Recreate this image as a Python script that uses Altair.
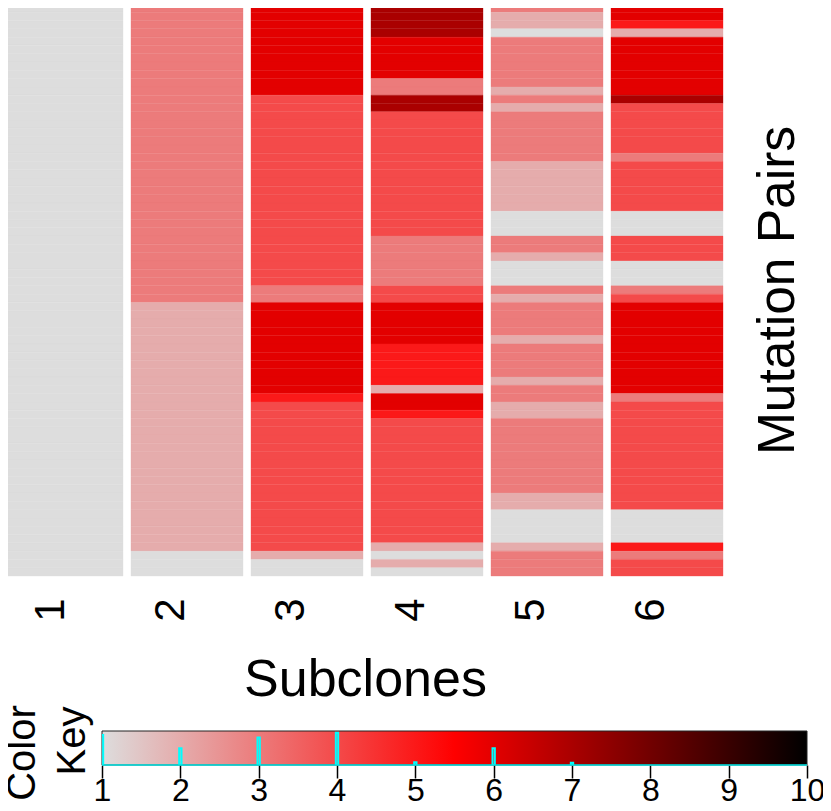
import altair as alt
import pandas as pd
from collections import Counter

# Discrete level of every mutation pair (top to bottom), one list per subclone.
SUBCLONE_1 = [1] * 69
SUBCLONE_2 = [3] * 36 + [2] * 30 + [1] * 3
SUBCLONE_3 = [6] * 11 + [4] * 23 + [3] * 2 + [6] * 11 + [5] + [4] * 18 + [2] + [1] * 2
SUBCLONE_4 = ([7] * 4 + [6] * 5 + [3] * 2 + [7] * 2 + [4] * 15 + [3] * 6 + [4] * 2 + [6] * 5
              + [5] * 5 + [2] + [6] * 2 + [5] + [4] * 15 + [2] + [1] + [2] + [1])
SUBCLONE_5 = ([3] + [2] * 2 + [1] + [3] * 6 + [2] + [3] + [2] + [3] * 6 + [2] * 6 + [1] * 3
              + [3] * 2 + [2] + [1] * 3 + [3] + [2] + [3] * 4 + [2] + [3] * 4 + [2] + [3] * 2
              + [2] * 2 + [3] * 9 + [2] * 2 + [1] * 4 + [2] + [3] * 3)
SUBCLONE_6 = ([6] * 2 + [5] + [2] + [6] * 7 + [7] + [4] * 6 + [3] + [4] * 6 + [1] * 3 + [4] * 3
              + [1] * 3 + [3] + [4] + [6] * 11 + [3] + [4] * 13 + [1] * 4 + [5] + [3] + [4] * 2)
COLUMNS = [SUBCLONE_1, SUBCLONE_2, SUBCLONE_3, SUBCLONE_4, SUBCLONE_5, SUBCLONE_6]

KEY_TICKS = [1, 2, 3, 4, 5, 6, 7, 8, 9, 10]
COLOR_DOMAIN = [1, 5.5, 10]
COLOR_RANGE = ["#DDDDDD", "#FF0000", "#000000"]
FONT = "Liberation Sans"

rows = pd.DataFrame(
    [
        {"subclone": str(i + 1), "row": r, "level": v}
        for i, col in enumerate(COLUMNS)
        for r, v in enumerate(col)
    ]
)
counts = Counter(rows["level"])
hist = pd.DataFrame(
    {
        "level": sorted(counts),
        "count": [counts[k] for k in sorted(counts)],
    }
)
hist["lo"] = hist["level"] - 0.015
hist["hi"] = hist["level"] + 0.015

color_scale = alt.Scale(domain=COLOR_DOMAIN, range=COLOR_RANGE, interpolate="rgb")
x_enc = alt.X(
    "subclone:N",
    scale=alt.Scale(paddingInner=0, paddingOuter=0),
    axis=alt.Axis(
        title="Subclones", titleFontSize=52, titleFontWeight="normal", titleFont=FONT,
        titlePadding=33, titleX=358, labelFontSize=42, labelFont=FONT, labelAngle=270, labelAlign="right",
        labelBaseline="middle", labelPadding=22, labelOffset=-16, labelColor="black",
        titleColor="black", domain=False, ticks=False,
    ),
)
y_enc = alt.Y(
    "row:O",
    scale=alt.Scale(round=False, paddingInner=0, paddingOuter=0),
    axis=alt.Axis(
        orient="right", title="Mutation Pairs", titleFontSize=51.5, titleFontWeight="normal",
        titleFont=FONT, titleAngle=270, titleColor="black", titlePadding=77,
        labels=False, ticks=False, domain=False,
    ),
)
color_enc = alt.Color("level:Q", scale=color_scale, legend=None)
stroke_enc = alt.Stroke("level:Q", scale=color_scale, legend=None)

narrow = (
    alt.Chart(rows[rows.subclone != "1"])
    .mark_rect(width=112, strokeWidth=0.35)
    .encode(x=x_enc, y=y_enc, color=color_enc, stroke=stroke_enc)
)
wide = (
    alt.Chart(rows[rows.subclone == "1"])
    .mark_rect(width=119, xOffset=-3.5, strokeWidth=0.35)
    .encode(x=x_enc, y=y_enc, color=color_enc, stroke=stroke_enc)
)
heat = alt.layer(wide, narrow).properties(width=720, height=572)

ramp = pd.DataFrame({"a": [KEY_TICKS[0]], "b": [KEY_TICKS[-1]]})
key_x = alt.Scale(domain=[KEY_TICKS[0], KEY_TICKS[-1]], nice=False)
key_rect = (
    alt.Chart(ramp)
    .mark_rect(
        stroke="#222222",
        strokeWidth=1,
        color=alt.Gradient(
            gradient="linear", x1=0, x2=1, y1=0, y2=0,
            stops=[
                alt.GradientStop(offset=0, color=COLOR_RANGE[0]),
                alt.GradientStop(offset=0.5, color=COLOR_RANGE[1]),
                alt.GradientStop(offset=1, color=COLOR_RANGE[2]),
            ],
        ),
    )
    .encode(
        x=alt.X(
            "a:Q", scale=key_x, title=None,
            axis=alt.Axis(
                values=KEY_TICKS, format="d", grid=False, labelFontSize=32, labelFont=FONT,
                labelColor="black", tickColor="black", tickWidth=1.5, tickSize=13,
                labelPadding=-3, domain=False, labelFlush=False, labelOverlap=False,
            ),
        ),
        x2="b:Q",
    )
)
bars = (
    alt.Chart(hist)
    .mark_rect(stroke="#00FFFF", strokeWidth=2, fillOpacity=0, clip=True)
    .encode(
        x=alt.X("lo:Q", scale=key_x),
        x2="hi:Q",
        y=alt.Y("count:Q", scale=alt.Scale(domain=[0, 110]), axis=None),
        y2=alt.datum(0),
    )
)
base = alt.Chart(ramp).mark_rule(color="#00E5E5", strokeWidth=1.5).encode(
    x=alt.X("a:Q", scale=key_x), x2="b:Q", y=alt.datum(0, scale=alt.Scale(domain=[0, 110]))
)
key = alt.layer(key_rect, bars, base).properties(width=705, height=34)

label_color = alt.Chart(pd.DataFrame({"t": ["Color"]})).mark_text(
    text="Color", angle=270, fontSize=40, font=FONT, align="center", baseline="alphabetic", color="black"
).encode(x=alt.value(28), y=alt.value(22))
label_key = alt.Chart(pd.DataFrame({"t": ["Key"]})).mark_text(
    text="Key", angle=270, fontSize=40, font=FONT, align="center", baseline="alphabetic", color="black"
).encode(x=alt.value(78), y=alt.value(10))
labels = alt.layer(label_color, label_key).properties(width=95, height=34)

lower = alt.hconcat(labels, key, spacing=0, bounds="flush")
chart = (
    alt.vconcat(heat, lower, spacing=155, bounds="flush")
    .properties(padding={"left": -6, "top": -5, "right": -2, "bottom": -4})
    .configure_view(stroke=None)
    .configure_axis(grid=False)
)
chart.save("out.html", embed_options={"renderer": "svg", "actions": False})
